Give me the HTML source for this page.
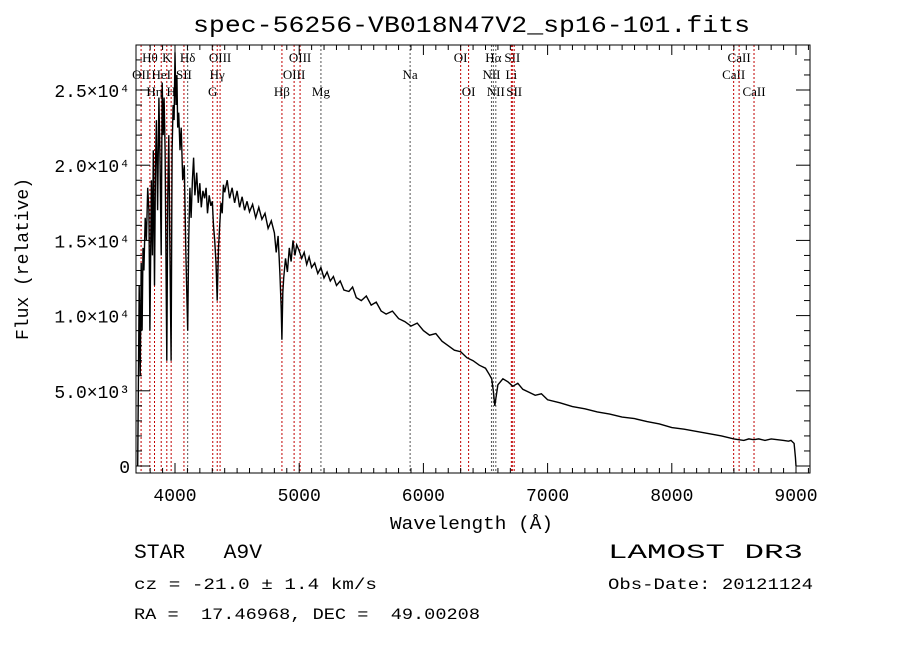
<!DOCTYPE html>
<html><head><meta charset="utf-8"><style>
html,body{margin:0;padding:0;background:#fff;}
svg{display:block;font-family:"Liberation Mono",monospace;}
svg text{white-space:pre;}
.lbl{font-family:"Liberation Serif",serif;font-size:13px;}
</style></head><body>
<svg id="chart" width="900" height="649" viewBox="0 0 900 649">
<rect width="900" height="649" fill="#fff"/>
<text x="193" y="32" font-size="23" textLength="557" lengthAdjust="spacingAndGlyphs">spec-56256-VB018N47V2_sp16-101.fits</text>
<g id="lines"></g>
<g id="spec"></g>
<g id="axes"></g>
<text x="390" y="529" font-size="18" textLength="163" lengthAdjust="spacingAndGlyphs">Wavelength (Å)</text>
<text x="28" y="259" font-size="18" text-anchor="middle" transform="rotate(-90 28 259)">Flux (relative)</text>
<text x="134" y="558" font-size="20" xml:space="preserve" textLength="128" lengthAdjust="spacingAndGlyphs">STAR   A9V</text>
<text x="608" y="558" font-size="20" textLength="195" lengthAdjust="spacingAndGlyphs">LAMOST DR3</text>
<text x="134" y="589" font-size="16" textLength="243" lengthAdjust="spacingAndGlyphs">cz = -21.0 ± 1.4 km/s</text>
<text x="608" y="589" font-size="16" textLength="205" lengthAdjust="spacingAndGlyphs">Obs-Date: 20121124</text>
<text x="134" y="619" font-size="16" xml:space="preserve" textLength="346" lengthAdjust="spacingAndGlyphs">RA =  17.46968, DEC =  49.00208</text>
</svg>
<script>
const waves=[3700,3712,3720,3728,3735,3742,3750,3760,3770,3780,3790,3798,3810,3818,3825,3835,3843,3850,3860,3870,3880,3889,3897,3905,3912,3920,3934,3942,3950,3958,3969,3977,3985,3993,4000,4008,4015,4022,4030,4040,4050,4062,4075,4088,4102,4110,4120,4130,4140,4150,4160,4175,4188,4200,4212,4225,4238,4250,4262,4275,4288,4300,4310,4320,4330,4340,4350,4360,4370,4380,4390,4400,4420,4440,4460,4480,4500,4520,4540,4560,4580,4600,4625,4650,4675,4700,4725,4750,4775,4800,4815,4830,4845,4855,4861,4868,4875,4890,4905,4920,4935,4950,4965,4980,5000,5020,5040,5060,5080,5100,5125,5150,5175,5200,5225,5250,5275,5300,5330,5360,5400,5430,5460,5500,5540,5580,5620,5660,5700,5750,5800,5850,5900,5950,6000,6050,6100,6150,6200,6250,6300,6350,6400,6450,6500,6530,6550,6563,6575,6600,6640,6680,6720,6760,6800,6850,6900,6950,7000,7100,7200,7300,7400,7500,7600,7700,7800,7900,8000,8100,8200,8300,8400,8450,8500,8540,8580,8620,8660,8700,8750,8800,8850,8900,8940,8960,8985,8995,9000];
const flux=[0,12000,6000,13500,9000,14500,13000,16500,15000,18500,17000,9000,19000,14000,21000,12000,20000,23000,17000,24500,20000,14000,25500,22000,24500,21000,7000,18000,22000,15000,7000,21000,24000,23000,27500,24000,26000,22500,23500,21000,22500,19000,20000,14000,9000,15000,18500,16500,19000,20500,18000,19500,17500,18800,17200,18300,17800,18500,16800,18000,17300,17600,16000,15000,13500,11000,14500,16000,17500,16800,18700,18200,19000,17800,18500,17500,18300,17200,17900,17000,17600,16900,17400,16500,17200,16400,16800,15800,16300,15500,14200,15300,12800,10500,8400,11500,12500,13800,12900,14500,13600,15000,14000,14700,14300,13800,14200,13400,13900,13200,13500,12800,13200,12500,12900,12300,12600,12000,12300,11700,11600,11900,11200,11000,11300,10700,10900,10300,10100,10300,9800,9600,9300,9500,9000,8700,8800,8300,8000,7700,7600,7200,7000,6700,6500,6100,5800,5000,4000,5400,5800,5600,5300,5500,5100,4900,4700,4800,4400,4200,3950,3800,3600,3450,3250,3150,2950,2800,2550,2450,2300,2150,2000,1900,1800,1750,1700,1800,1750,1800,1700,1800,1750,1700,1650,1700,1500,600,0];
const lineWaves=[3727,3798,3835,3889,3934,3969,4072,4102,4304,4340,4363,4861,4959,5007,5175,5893,6300,6364,6548,6563,6583,6708,6716,6731,8498,8542,8662];
const lineGray=[0,0,0,0,0,0,0,1,0,0,0,0,0,0,1,1,0,0,1,1,1,0,0,0,0,0,0];
const labelText=["OII","Hθ","Hη","HeI","K","H","SII","Hδ","G","Hγ","OIII","Hβ","OIII","OIII","Mg","Na","OI","OI","NII","Hα","NII","Li","SII","SII","CaII","CaII","CaII"];
const labelRow=[1,0,2,1,0,2,1,0,2,1,0,2,1,0,2,1,0,2,1,0,2,1,0,2,1,0,2];
const xTicks=[4000,5000,6000,7000,8000,9000];
const yTicks=[0,5000,10000,15000,20000,25000];
const yTickLabels=["0","5.0×10³","1.0×10⁴","1.5×10⁴","2.0×10⁴","2.5×10⁴"];
const L=136,R=810,T=45,B=473;
const X=w=>175+(w-4000)*0.1242;
const Y=f=>466-f*75.2/5000;
const NS="http://www.w3.org/2000/svg";
function mk(tag,attrs,parent){const e=document.createElementNS(NS,tag);for(const k in attrs)e.setAttribute(k,attrs[k]);parent.appendChild(e);return e;}
const gl=document.getElementById('lines');
lineWaves.forEach((w,i)=>{
 const l=mk('line',{x1:X(w),x2:X(w),y1:T,y2:B,stroke:lineGray[i]?'#555':'#c00000','stroke-width':1,'stroke-dasharray':'2,2'},gl);
 
 
 const t=mk('text',{x:X(w),y:62+labelRow[i]*17,'text-anchor':'middle',class:'lbl'},gl);
 t.textContent=labelText[i];
 
 
});
const gs=document.getElementById('spec');
const pts=waves.map((w,i)=>X(w).toFixed(1)+','+Y(flux[i]).toFixed(1)).join(' ');
const pl=mk('polyline',{points:pts,fill:'none',stroke:'#000','stroke-width':1.4},gs);


const ga=document.getElementById('axes');
const fr=mk('rect',{x:L,y:T,width:R-L,height:B-T,fill:'none',stroke:'#000','stroke-width':1},ga);


for(let w=3800;w<=9100;w+=100){const x=X(w);const maj=w%1000===0;const len=maj?10:5;
 mk('line',{x1:x,x2:x,y1:B,y2:B-len,stroke:'#000'},ga);mk('line',{x1:x,x2:x,y1:T,y2:T+len,stroke:'#000'},ga);}
xTicks.forEach(w=>{const t=mk('text',{x:X(w),y:B+28,'font-size':18,'text-anchor':'middle'},ga);t.textContent=w;
 
 });
for(let f=0;f<=27000;f+=1000){const y=Y(f);const maj=f%5000===0;const len=maj?14:6;
 mk('line',{x1:L,x2:L+len,y1:y,y2:y,stroke:'#000'},ga);mk('line',{x1:R,x2:R-len,y1:y,y2:y,stroke:'#000'},ga);}
yTicks.forEach((f,i)=>{const t=mk('text',{x:L-6,y:Y(f)+7,'font-size':18,'text-anchor':'end'},ga);t.textContent=yTickLabels[i];
 
 });
</script>
</body></html>
